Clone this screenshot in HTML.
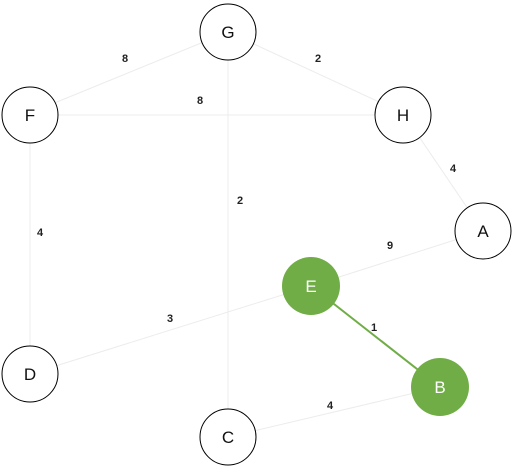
<!DOCTYPE html>
<html><head><meta charset="utf-8"><style>
html,body{margin:0;padding:0;background:#fff;}
svg{display:block;}
</style></head><body>
<svg width="512" height="468" viewBox="0 0 512 468" xmlns="http://www.w3.org/2000/svg" font-family="Liberation Sans, sans-serif">
<g stroke="#ececec" stroke-width="1" fill="none">
<line x1="228" y1="32" x2="30" y2="113"/>
<line x1="228" y1="32" x2="403" y2="113"/>
<line x1="30" y1="115" x2="403" y2="115"/>
<line x1="403" y1="113" x2="483" y2="231"/>
<line x1="30" y1="113" x2="30" y2="374"/>
<line x1="228" y1="32" x2="228" y2="437"/>
<line x1="311" y1="286" x2="483" y2="231"/>
<line x1="311" y1="286" x2="30" y2="374"/>
<line x1="228" y1="437" x2="440" y2="387"/>
</g>
<line x1="311" y1="286" x2="440" y2="387" stroke="#70ad47" stroke-width="2"/>
<g font-size="11" font-weight="bold" fill="#222" text-anchor="middle">
<text x="125" y="62">8</text>
<text x="318" y="62">2</text>
<text x="200" y="104">8</text>
<text x="453" y="172">4</text>
<text x="40" y="236">4</text>
<text x="240" y="204">2</text>
<text x="390" y="249">9</text>
<text x="170" y="322">3</text>
<text x="374" y="331">1</text>
<text x="330" y="409">4</text>
</g>
<g stroke="#000" stroke-width="1" fill="#fff">
<circle cx="228" cy="32" r="28"/>
<circle cx="30" cy="115" r="28"/>
<circle cx="403" cy="115" r="28"/>
<circle cx="483" cy="231" r="28"/>
<circle cx="30" cy="374" r="28"/>
<circle cx="228" cy="437" r="28"/>
</g>
<g fill="#70ad47">
<circle cx="311" cy="286" r="29"/>
<circle cx="440" cy="387" r="29"/>
</g>
<g font-size="17" text-anchor="middle" fill="#111">
<text x="228" y="38">G</text>
<text x="30" y="121">F</text>
<text x="403" y="121">H</text>
<text x="483" y="237">A</text>
<text x="30" y="380">D</text>
<text x="228" y="443">C</text>
<text x="311" y="292" fill="#fff">E</text>
<text x="440" y="393" fill="#fff">B</text>
</g>
</svg>
</body></html>
